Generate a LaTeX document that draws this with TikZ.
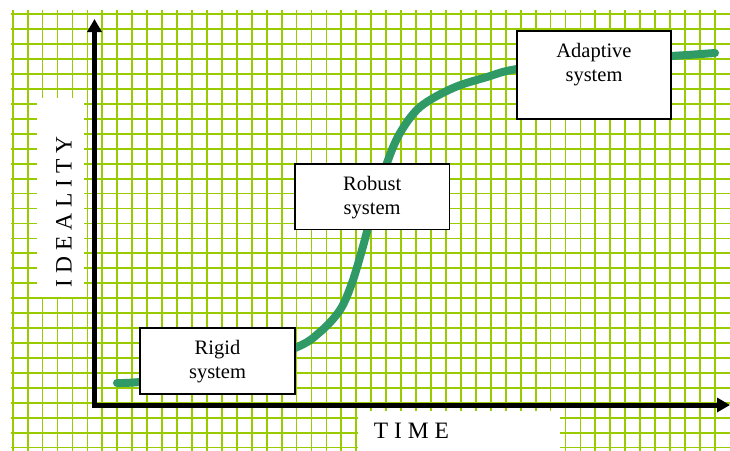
\documentclass[tikz,border=0pt]{standalone}
\usepackage{fontspec}
\setmainfont{Liberation Serif}
\usetikzlibrary{arrows.meta,calc}
\definecolor{gridgreen}{RGB}{153,204,0}
\definecolor{curvegreen}{RGB}{48,154,102}
\tikzset{
  gridline/.style={draw=gridgreen, line width=1.8pt},
  mask/.style={fill=white, draw=none},
  axisline/.style={line width=5pt, -{Triangle[width=14pt,length=13pt]}},
  curveline/.style={draw=curvegreen, line width=8pt, line cap=round, line join=round},
  sysbox/.style={draw=black, line width=1.3pt, fill=white, rectangle, inner sep=0pt},
  boxtext/.style={font=\fontsize{20.5}{24.3}\selectfont, align=center, inner sep=0pt, anchor=north},
  axislabel/.style={font=\fontsize{23.5}{26}\selectfont, inner sep=0pt, anchor=base}
}
\begin{document}
\begin{tikzpicture}[x=1pt,y=-1pt]
\useasboundingbox (0,0) rectangle (730,450);
% grid
\foreach \i in {0,...,47} {
  \draw[gridline] ({12.7+14.94*\i},10) -- ({12.7+14.94*\i},452);
}
\foreach \j in {0,...,29} {
  \draw[gridline] (11,{14.3+14.94*\j}) -- (732,{14.3+14.94*\j});
}
% white label areas
\fill[mask] (37,98) rectangle (84,297);
\fill[mask] (358,411) rectangle (560,452);
% axis labels
\node[axislabel, rotate=90] (ylabel) at (71.7,212) {I D E A L I T Y};
\node[axislabel] (xlabel) at (411.5,438) {T I M E};
% axes
\coordinate (origin) at (94.5,407.5);
\coordinate (ytop) at (94.5,19);
\coordinate (xstart) at (92,405);
\coordinate (xend) at (730,405);
\draw[axisline] (origin) -- (ytop);
\draw[axisline] (xstart) -- (xend);
% curve
\draw[curveline] plot[smooth, tension=0.55] coordinates {
  (117,383) (140,382) (220,374) (295,348) (320,332) (340,310) (352,283)
  (362,250) (368,228) (378,195) (387,163) (400,133) (420,107) (453,88)
  (487,77) (517,69) (594,60) (671,56) (715,53)};
% boxes
\node[sysbox, minimum width=155pt, minimum height=66pt] (rigid) at (217.5,361) {};
\node[sysbox, minimum width=154.3pt, minimum height=65.3pt] (robust) at (372.2,196.7) {};
\node[sysbox, minimum width=154pt, minimum height=88pt] (adaptive) at (594,75) {};
\node[boxtext] (rigidtxt) at ($(rigid.north)+(0,12.6)$) {Rigid\\system};
\node[boxtext] (robusttxt) at ($(robust.north)+(0,12.4)$) {Robust\\system};
\node[boxtext] (adaptivetxt) at ($(adaptive.north)+(0,12.3)$) {Adaptive\\system};
\end{tikzpicture}
\end{document}
